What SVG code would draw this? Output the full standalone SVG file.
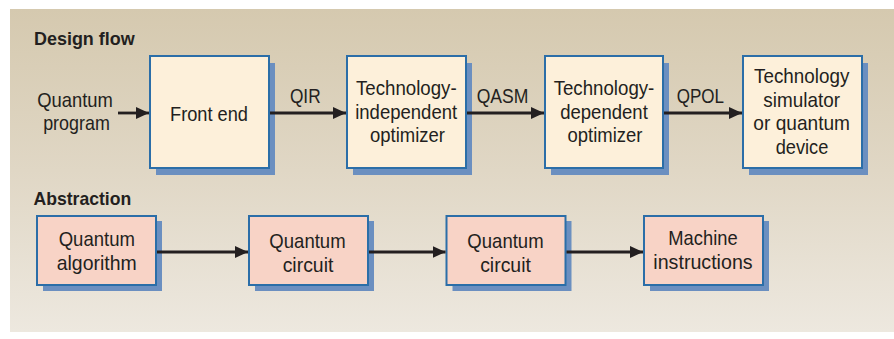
<svg xmlns="http://www.w3.org/2000/svg" width="894" height="339" viewBox="0 0 894 339">
<defs>
<linearGradient id="bg" x1="0" y1="0" x2="0" y2="1">
<stop offset="0" stop-color="#d5c9af"/>
<stop offset="0.5" stop-color="#e0d7c5"/>
<stop offset="1" stop-color="#ede8df"/>
</linearGradient>
<marker id="ah" viewBox="0 0 13 12" refX="13" refY="6" markerWidth="13" markerHeight="12" markerUnits="userSpaceOnUse" orient="auto">
<path d="M0,0 L13,6 L0,12 Z" fill="#231f20"/>
</marker>
<style>
text{font-family:"Liberation Sans",Arial,sans-serif;fill:#231f20;font-size:21px}
.c{text-anchor:middle}
.h{font-weight:bold;font-size:19px}
.sh{fill:#6b8fc0}
.df{fill:#fdf0da;stroke:#2b6ea8;stroke-width:2}
.ab{fill:#f8d3c6;stroke:#2b6ea8;stroke-width:2}
.cn line{stroke:#231f20;stroke-width:2.8;marker-end:url(#ah)}
</style>
</defs>
<rect x="10" y="9" width="884" height="323" fill="url(#bg)"/>
<text x="34" y="45" class="h" textLength="100.7" lengthAdjust="spacingAndGlyphs">Design flow</text>
<text x="33.5" y="205" class="h" textLength="97.7" lengthAdjust="spacingAndGlyphs">Abstraction</text>
<g id="input">
<text x="75" y="107" class="c" textLength="75.7" lengthAdjust="spacingAndGlyphs">Quantum</text>
<text x="76.5" y="129.5" class="c" textLength="66.7" lengthAdjust="spacingAndGlyphs">program</text>
</g>
<g id="frontend">
<rect x="156" y="63" width="119" height="112" class="sh"/>
<rect x="150" y="56" width="119" height="112" class="df"/>
<text x="209" y="120.5" class="c" textLength="78" lengthAdjust="spacingAndGlyphs">Front end</text>
</g>
<g id="tindep">
<rect x="353" y="63" width="119" height="112" class="sh"/>
<rect x="347" y="56" width="119" height="112" class="df"/>
<text x="406.3" y="95" class="c" textLength="100.7" lengthAdjust="spacingAndGlyphs">Technology-</text>
<text x="406.2" y="118.5" class="c" textLength="102" lengthAdjust="spacingAndGlyphs">independent</text>
<text x="407.5" y="142" class="c" textLength="75" lengthAdjust="spacingAndGlyphs">optimizer</text>
</g>
<g id="tdep">
<rect x="551" y="63" width="118" height="112" class="sh"/>
<rect x="545" y="56" width="118" height="112" class="df"/>
<text x="604" y="95" class="c" textLength="100.7" lengthAdjust="spacingAndGlyphs">Technology-</text>
<text x="604" y="118.5" class="c" textLength="87.6" lengthAdjust="spacingAndGlyphs">dependent</text>
<text x="605" y="142" class="c" textLength="75" lengthAdjust="spacingAndGlyphs">optimizer</text>
</g>
<g id="tsim">
<rect x="749" y="63" width="119" height="112" class="sh"/>
<rect x="743" y="56" width="119" height="112" class="df"/>
<text x="801.7" y="83" class="c" textLength="95.3" lengthAdjust="spacingAndGlyphs">Technology</text>
<text x="801.7" y="106.5" class="c" textLength="76.7" lengthAdjust="spacingAndGlyphs">simulator</text>
<text x="801.7" y="130" class="c" textLength="96.7" lengthAdjust="spacingAndGlyphs">or quantum</text>
<text x="802" y="153.5" class="c" textLength="52.7" lengthAdjust="spacingAndGlyphs">device</text>
</g>
<g id="qalg">
<rect x="43" y="221" width="119" height="70" class="sh"/>
<rect x="37" y="216" width="119" height="69" class="ab"/>
<text x="96.8" y="246" class="c" textLength="76.3" lengthAdjust="spacingAndGlyphs">Quantum</text>
<text x="96.7" y="269.5" class="c" textLength="80" lengthAdjust="spacingAndGlyphs">algorithm</text>
</g>
<g id="qcirc1">
<rect x="255" y="221" width="119" height="70" class="sh"/>
<rect x="249" y="216" width="119" height="69" class="ab"/>
<text x="307.5" y="248" class="c" textLength="76.3" lengthAdjust="spacingAndGlyphs">Quantum</text>
<text x="308" y="272" class="c" textLength="50.7" lengthAdjust="spacingAndGlyphs">circuit</text>
</g>
<g id="qcirc2">
<rect x="452.5" y="221" width="119" height="70" class="sh"/>
<rect x="446.5" y="216" width="119" height="69" class="ab"/>
<text x="505.5" y="248" class="c" textLength="76.3" lengthAdjust="spacingAndGlyphs">Quantum</text>
<text x="505.5" y="272" class="c" textLength="50.7" lengthAdjust="spacingAndGlyphs">circuit</text>
</g>
<g id="machine">
<rect x="650" y="221" width="119" height="70" class="sh"/>
<rect x="644" y="216" width="119" height="69" class="ab"/>
<text x="703" y="244.5" class="c" textLength="69.3" lengthAdjust="spacingAndGlyphs">Machine</text>
<text x="703" y="268.5" class="c" textLength="99.3" lengthAdjust="spacingAndGlyphs">instructions</text>
</g>
<g id="connectors" class="cn">
<line x1="118" y1="113" x2="149" y2="113"/>
<line x1="270" y1="113" x2="346" y2="113"/>
<line x1="467" y1="113" x2="544" y2="113"/>
<line x1="664" y1="113" x2="742" y2="113"/>
<line x1="157" y1="252" x2="248" y2="252"/>
<line x1="369" y1="252" x2="445.5" y2="252"/>
<line x1="566.5" y1="252" x2="643" y2="252"/>
</g>
<g id="edge-labels">
<text x="305.3" y="103" class="c" textLength="30.7" lengthAdjust="spacingAndGlyphs">QIR</text>
<text x="502.5" y="103" class="c" textLength="51.7" lengthAdjust="spacingAndGlyphs">QASM</text>
<text x="700.3" y="103" class="c" textLength="47.3" lengthAdjust="spacingAndGlyphs">QPOL</text>
</g>
</svg>
